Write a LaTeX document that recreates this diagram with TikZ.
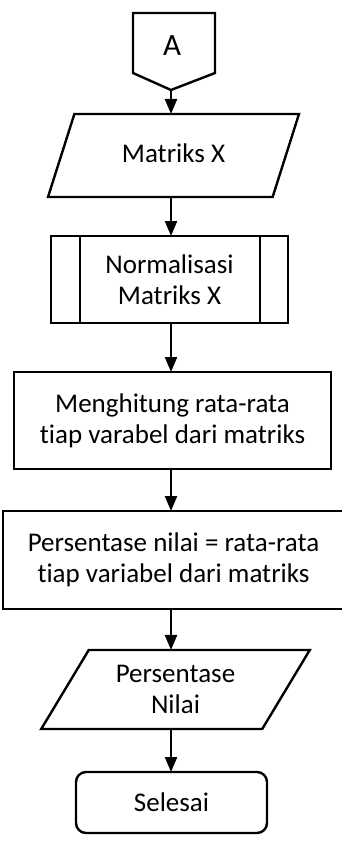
\documentclass[tikz,border=0pt]{standalone}
\usepackage{fontspec}
\setmainfont[Ligatures=NoCommon]{Carlito}
\usetikzlibrary{shapes.geometric,arrows.meta}

\begin{document}
\begin{tikzpicture}[x=1pt,y=-1pt,line width=2.4pt,
		font=\fontsize{27}{31}\selectfont,
		box/.style={draw, fill=white, align=center, inner sep=0pt, outer sep=0pt},
		datain/.style={box, trapezium, trapezium stretches=true},
		flow/.style={-{Triangle[width=12pt,length=15pt]}}]
				\useasboundingbox (0,0) rectangle (342,843);
				% connector A
				\draw[fill=white] (133,13) -- (215,13) -- (215,73) -- (171,90) -- (133,73) -- cycle;
				\node (A) at (172,46) {\fontsize{31}{31}\selectfont A};
				\coordinate (Atip) at (171,90);
				% input
				\node[datain, trapezium left angle=60, trapezium right angle=120,
					minimum width=251, minimum height=83] (mx) at (173.5,155.5) {\raisebox{5pt}{Matriks X}};
				% normalisasi
				\node[box, minimum width=237, minimum height=87] (norm) at (169.5,279.5) {Normalisasi\\Matriks X};
				\draw ([xshift=29]norm.north west) -- ([xshift=29]norm.south west);
				\draw ([xshift=-28]norm.north east) -- ([xshift=-28]norm.south east);
				% proses
				\node[box, minimum width=317, minimum height=97] (rata) at (172.5,420.5) {Menghitung rata-rata\\tiap varabel dari matriks};
				\node[box, minimum width=341, minimum height=98] (pers) at (173.5,560) {Persentase nilai = rata-rata\\tiap variabel dari matriks};
				% output
				\node[datain, trapezium left angle=56, trapezium right angle=124,
					minimum width=269, minimum height=79] (nilai) at (175.5,689.5) {Persentase\\Nilai};
				% selesai
				\node[box, rounded corners=10pt, minimum width=191, minimum height=61] (end) at (171.5,802.5) {Selesai};
				% arrows
				\draw[flow] (Atip) -- (mx.north -| Atip);
				\draw[flow] (mx.south -| Atip) -- (norm.north -| Atip);
				\draw[flow] (norm.south -| Atip) -- (rata.north -| Atip);
				\draw[flow] (rata.south -| Atip) -- (pers.north -| Atip);
				\draw[flow] (pers.south -| Atip) -- (nilai.north -| Atip);
				\draw[flow] (nilai.south -| Atip) -- (end.north -| Atip);
\end{tikzpicture}
\end{document}
